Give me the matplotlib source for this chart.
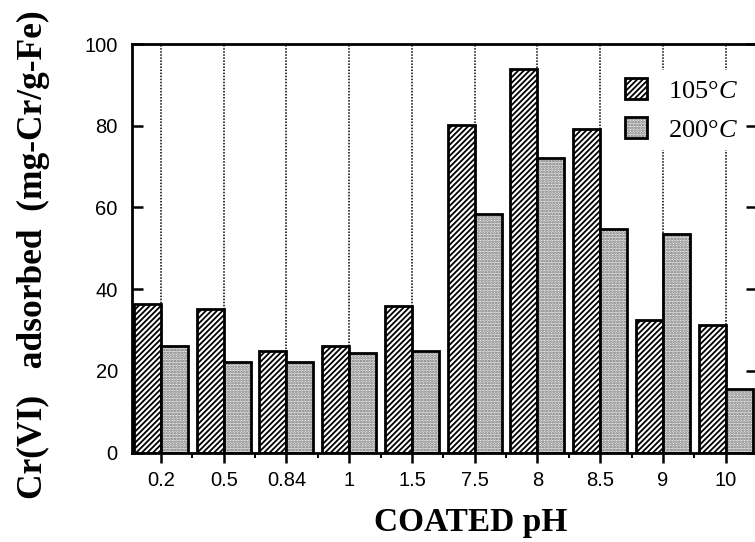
import matplotlib
matplotlib.use("Agg")
import matplotlib.pyplot as plt
import numpy as np
from matplotlib.patches import Patch
from matplotlib.legend_handler import HandlerTuple

categories = ["0.2", "0.5", "0.84", "1", "1.5", "7.5", "8", "8.5", "9", "10"]
vals_105 = [36.4, 35.2, 25.0, 26.1, 35.8, 80.1, 93.8, 79.1, 32.5, 31.3]
vals_200 = [26.1, 22.1, 22.1, 24.4, 24.9, 58.5, 72.0, 54.8, 53.6, 15.5]
yticks = [0, 20, 40, 60, 80, 100]

plt.rcParams['hatch.linewidth'] = 1.3
plt.rcParams['mathtext.fontset'] = 'custom'
plt.rcParams['mathtext.it'] = 'Liberation Serif:italic'
plt.rcParams['mathtext.rm'] = 'Liberation Serif'

W, H = 755, 542
fig = plt.figure(figsize=(W/100, H/100), dpi=100)
ax = fig.add_axes([131.7/W, (H-452.7)/H, (757-131.7)/W, (452.7-44)/H])

x = np.arange(len(categories))
bw = 0.43
HATCH = '//////'
DOTS = '......'
STIP_FACE = '#ececec'
STIP_DOT = '#6e6e6e'

# gridlines (dotted vertical)
for xi in x:
    ax.axvline(xi, color='black', linestyle=(0, (1, 1)), linewidth=1.1, zorder=0.5)

# hatched 105 bars
ax.bar(x - bw/2, vals_105, width=bw, facecolor='white', edgecolor='black',
       hatch=HATCH, linewidth=2.0, zorder=2)
# stippled 200 bars: texture layer + outline layer
ax.bar(x + bw/2, vals_200, width=bw, facecolor=STIP_FACE, edgecolor=STIP_DOT,
       hatch=DOTS, linewidth=0, zorder=2)
ax.bar(x + bw/2, vals_200, width=bw, fill=False, edgecolor='black',
       linewidth=2.0, zorder=3)

ax.set_xlim(-0.467, 9.5)
ax.set_ylim(0, 100)

tick_font = {'family': 'Liberation Sans', 'size': 14.5}
ax.set_xticks(x)
ax.set_xticklabels(categories, fontdict=tick_font)
ax.set_xticks(x[:-1] + 0.5, minor=True)
ax.tick_params(axis='x', which='major', direction='out', length=7, width=1.8, pad=6)
ax.tick_params(axis='x', which='minor', direction='out', length=3.5, width=1.4)
ax.set_yticks(yticks)
ax.set_yticklabels([str(v) for v in yticks], fontdict=tick_font)
ax.tick_params(axis='y', which='major', direction='in', length=8, width=1.8, pad=10,
               right=True)

for s in ['left', 'bottom', 'top', 'right']:
    ax.spines[s].set_linewidth(2.0)

fig.text(471/W, 1 - 522/H, "COATED pH", ha='center', va='center',
         fontfamily='Liberation Serif', fontweight='bold', fontsize=24)
fig.text(33/W, 1 - 255/H, "Cr(VI)   adsorbed  (mg-Cr/g-Fe)", rotation=90,
         ha='center', va='center', fontfamily='Liberation Serif',
         fontweight='bold', fontsize=25.5)

# legend
h1 = Patch(facecolor='white', edgecolor='black', hatch=HATCH, linewidth=2.0)
h2a = Patch(facecolor=STIP_FACE, edgecolor=STIP_DOT, hatch=DOTS, linewidth=0)
h2b = Patch(fill=False, edgecolor='black', linewidth=2.0)
leg = ax.legend([h1, (h2a, h2b)], ["105°$C$", "200°$C$"],
                handler_map={tuple: HandlerTuple(ndivide=1, pad=0)},
                loc='upper left', bbox_to_anchor=(617/W, 1 - 70/H),
                bbox_transform=fig.transFigure, frameon=True, fancybox=False,
                framealpha=1, facecolor='white', edgecolor='none',
                prop={'family': 'Liberation Serif', 'size': 19},
                handlelength=0.85, handleheight=0.85, handletextpad=0.8,
                labelspacing=0.55, borderpad=0.3, borderaxespad=0)
leg.set_zorder(5)

fig.savefig("out.png", dpi=100)
